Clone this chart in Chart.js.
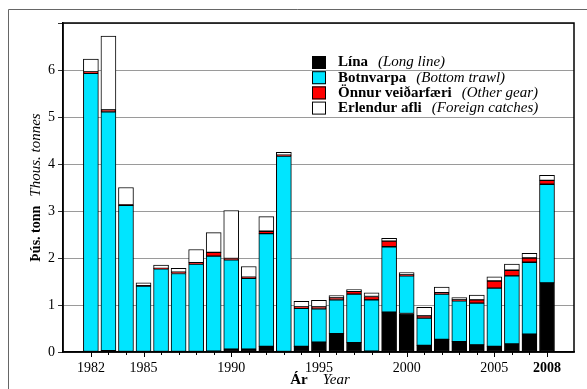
<!DOCTYPE html>
<html>
<head>
<meta charset="utf-8">
<script src="https://cdn.jsdelivr.net/npm/chart.js@4/dist/chart.umd.min.js"></script>
<style>
  html, body { margin: 0; padding: 0; background: #fff; }
  #chart { display: block; }
</style>
</head>
<body>
<canvas id="chart" width="587" height="389"></canvas>
<script>
const years = [1982, 1983, 1984, 1985, 1986, 1987, 1988, 1989, 1990, 1991, 1992, 1993, 1994, 1995,
  1996, 1997, 1998, 1999, 2000, 2001, 2002, 2003, 2004, 2005, 2006, 2007, 2008];
const labeledYears = [1982, 1985, 1990, 1995, 2000, 2005, 2008];

// thous. tonnes
const lina = [0.01, 0.03, 0.01, 0.01, 0.01, 0.01, 0.01, 0.02, 0.06, 0.06, 0.12, 0.01, 0.12, 0.21,
  0.39, 0.20, 0.02, 0.85, 0.82, 0.14, 0.27, 0.22, 0.15, 0.12, 0.17, 0.38, 1.47];
const botnvarpa = [5.92, 5.08, 3.11, 1.39, 1.76, 1.66, 1.86, 2.02, 1.90, 1.51, 2.40, 4.16, 0.81, 0.71,
  0.72, 1.03, 1.09, 1.39, 0.80, 0.58, 0.96, 0.87, 0.89, 1.24, 1.45, 1.53, 2.10];
const onnur = [0.03, 0.04, 0.01, 0.01, 0.01, 0.03, 0.03, 0.08, 0.03, 0.02, 0.05, 0.02, 0.03, 0.04,
  0.04, 0.06, 0.07, 0.12, 0.02, 0.05, 0.03, 0.02, 0.07, 0.15, 0.12, 0.09, 0.08];
const erlendur = [0.27, 1.57, 0.37, 0.06, 0.07, 0.08, 0.28, 0.42, 1.02, 0.23, 0.31, 0.06, 0.12, 0.14,
  0.05, 0.04, 0.08, 0.06, 0.05, 0.18, 0.12, 0.05, 0.10, 0.09, 0.13, 0.10, 0.11];

const legendItems = [
  { bold: 'Lína', italic: '(Long line)', color: '#000000' },
  { bold: 'Botnvarpa', italic: '(Bottom trawl)', color: '#00e5ff' },
  { bold: 'Önnur veiðarfæri', italic: '(Other gear)', color: '#ff0000' },
  { bold: 'Erlendur afli', italic: '(Foreign catches)', color: '#ffffff' },
];

const SERIF = "'Liberation Serif', 'DejaVu Serif', serif";
Chart.defaults.font.family = SERIF;
Chart.defaults.color = '#000';

function series(values) {
  return years.map((y, i) => ({ x: y, y: values[i] }));
}

function ds(label, values, color) {
  return {
    label: label,
    data: series(values),
    backgroundColor: color,
    borderColor: '#000',
    borderWidth: 1,
    borderSkipped: false,
    barThickness: 15,
  };
}

const decor = {
  id: 'decor',
  beforeDraw(chart) {
    const ctx = chart.ctx;
    ctx.save();
    ctx.strokeStyle = '#666';
    ctx.lineWidth = 1;
    ctx.beginPath();
    ctx.moveTo(8.5, 389);
    ctx.lineTo(8.5, 9.5);
    ctx.lineTo(587, 9.5);
    ctx.stroke();
    ctx.restore();
  },
  afterDraw(chart) {
    const ctx = chart.ctx;
    const a = chart.chartArea;
    const xs = chart.scales.x;
    ctx.save();

    // frame
    ctx.strokeStyle = '#000';
    ctx.lineWidth = 1.5;
    ctx.strokeRect(a.left, a.top, a.right - a.left, a.bottom - a.top);

    // x tick marks
    ctx.lineWidth = 1;
    years.forEach((y) => {
      const px = Math.round(xs.getPixelForValue(y)) + 0.5;
      const len = labeledYears.includes(y) ? 5 : 3;
      ctx.beginPath();
      ctx.moveTo(px, a.bottom);
      ctx.lineTo(px, a.bottom + len);
      ctx.stroke();
    });

    // y title
    ctx.fillStyle = '#000';
    ctx.textBaseline = 'middle';
    const b1 = 'bold 14px ' + SERIF;
    const i1 = 'italic 15px ' + SERIF;
    ctx.font = b1;
    const wb = ctx.measureText('Þús. tonn').width;
    ctx.font = i1;
    const wi = ctx.measureText('Thous. tonnes').width;
    const gap = 9;
    const total = wb + gap + wi;
    ctx.translate(36, (a.top + a.bottom) / 2);
    ctx.rotate(-Math.PI / 2);
    ctx.textAlign = 'left';
    ctx.font = b1;
    ctx.fillText('Þús. tonn', -total / 2, 0);
    ctx.font = i1;
    ctx.fillText('Thous. tonnes', -total / 2 + wb + gap, 0);
    ctx.setTransform(1, 0, 0, 1, 0, 0);

    // x title
    ctx.font = 'bold 15px ' + SERIF;
    const wa = ctx.measureText('Ár').width;
    ctx.font = 'italic 15px ' + SERIF;
    const wy = ctx.measureText('Year').width;
    const xgap = 15;
    const xstart = 320 - (wa + xgap + wy) / 2;
    ctx.font = 'bold 15px ' + SERIF;
    ctx.fillText('Ár', xstart, 380);
    ctx.font = 'italic 15px ' + SERIF;
    ctx.fillText('Year', xstart + wa + xgap, 380);

    // legend
    legendItems.forEach((it, i) => {
      const cy = 62.5 + i * 15.2;
      ctx.fillStyle = it.color;
      ctx.fillRect(312, cy - 6.5, 14, 13);
      ctx.strokeStyle = '#000';
      ctx.lineWidth = 1;
      ctx.strokeRect(312.5, cy - 6, 13, 12);
      ctx.fillStyle = '#000';
      ctx.font = 'bold 15px ' + SERIF;
      ctx.fillText(it.bold, 338, cy);
      const w = ctx.measureText(it.bold).width;
      ctx.font = 'italic 15px ' + SERIF;
      ctx.fillText(it.italic, 338 + w + 10, cy);
    });

    ctx.restore();
  },
};

new Chart(document.getElementById('chart'), {
  type: 'bar',
  data: {
    datasets: [
      ds('Lína', lina, legendItems[0].color),
      ds('Botnvarpa', botnvarpa, legendItems[1].color),
      ds('Önnur veiðarfæri', onnur, legendItems[2].color),
      ds('Erlendur afli', erlendur, legendItems[3].color),
    ],
  },
  options: {
    responsive: false,
    animation: false,
    layout: { padding: { left: 0, right: 13, top: 23, bottom: 0 } },
    plugins: { legend: { display: false }, tooltip: { enabled: false } },
    scales: {
      x: {
        type: 'linear',
        stacked: true,
        min: 1980.95,
        max: 2009.0,
        afterBuildTicks: (s) => { s.ticks = years.map((v) => ({ value: v })); },
        afterFit: (s) => { s.height = 37; },
        grid: { display: false, drawTicks: true, tickLength: 5 },
        border: { display: true, color: '#000', width: 1.5 },
        ticks: {
          autoSkip: false,
          maxRotation: 0,
          padding: 3,
          color: '#000',
          font: (c) => ({ family: SERIF, size: 14, weight: c.tick && c.tick.value === 2008 ? 'bold' : 'normal' }),
          callback: (v) => (labeledYears.includes(v) ? String(v) : ''),
        },
      },
      y: {
        stacked: true,
        min: 0,
        max: 7,
        afterFit: (s) => { s.width = 63; },
        grid: { color: '#9a9a9a', lineWidth: 1, drawTicks: true, tickLength: 5, tickColor: '#333' },
        border: { display: true, color: '#000', width: 1.5 },
        ticks: {
          stepSize: 1,
          padding: 3,
          color: '#000',
          font: { family: SERIF, size: 14 },
          callback: (v) => (v === 7 ? '' : String(v)),
        },
      },
    },
  },
  plugins: [decor],
});
</script>
</body>
</html>
